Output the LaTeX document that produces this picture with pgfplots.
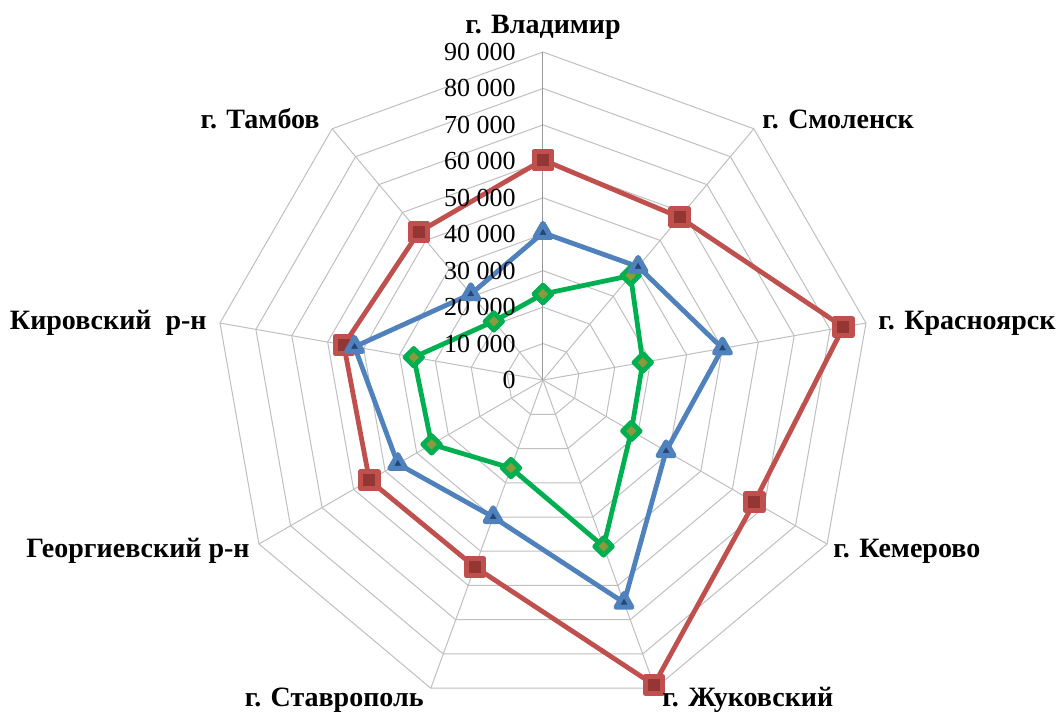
\documentclass[border=0pt]{standalone}
\usepackage{fontspec}
\setmainfont{Liberation Serif}
\usepackage{pgfplots}
\pgfplotsset{compat=1.18}
\usepgfplotslibrary{polar}

\definecolor{redline}{HTML}{C0504D}
\definecolor{redfill}{HTML}{943634}
\definecolor{blueline}{HTML}{4F81BD}
\definecolor{bluefill}{HTML}{254775}
\definecolor{greenline}{HTML}{00B050}
\definecolor{greenfill}{HTML}{8A9A3C}
\definecolor{gridc}{HTML}{BFBFBF}

\begin{document}
\begin{tikzpicture}
% page = 1059 x 714 px at 0.5pt per px, pole at px (543,380)
\useasboundingbox (-271.5pt,-167pt) rectangle (258pt,190pt);
\begin{polaraxis}[
    at={(0,0)}, anchor=center,
    scale only axis, width=328pt, height=328pt,
    ymin=0, ymax=90000,
    hide axis, clip=false,
  ]
  % rings (angles: category i at 90-40*i degrees)
  \pgfplotsinvokeforeach{10000,20000,30000,40000,50000,60000,70000,80000,90000}{
    \addplot[gridc, line width=0.5pt, mark=none] coordinates {
      (90,#1) (50,#1) (10,#1) (-30,#1) (-70,#1) (-110,#1) (-150,#1) (170,#1) (130,#1) (90,#1)};
  }
  % spokes
  \pgfplotsinvokeforeach{50,10,-30,-70,-110,-150,170,130}{
    \addplot[gridc, line width=0.5pt, mark=none] coordinates {(#1,0) (#1,90000)};
  }
  \addplot[gray!80, line width=0.5pt, mark=none] coordinates {(90,0) (90,90000)};

  % green series
  \addplot[greenline, line width=2.4pt, line join=round, mark=square*,
    mark options={solid, rotate=45, draw=greenline, fill=greenfill, line width=2.4pt, line join=round, mark size=3.1pt}]
  coordinates {
    (90,23600) (50,37400) (10,27800) (-30,28000) (-70,48600)
    (-110,25700) (-150,35300) (170,36000) (130,21000) (90,23600)};
  % red series
  \addplot[redline, line width=2.4pt, line join=round, mark=square*,
    mark options={solid, draw=redline, fill=redfill, line width=2.6pt, line join=round, mark size=4.3pt}]
  coordinates {
    (90,60400) (50,58300) (10,83700) (-30,67000) (-70,89000)
    (-110,54600) (-150,55000) (170,55500) (130,53000) (90,60400)};
  % blue series
  \addplot[blueline, line width=2.4pt, line join=round, mark=triangle*,
    mark options={solid, draw=blueline, fill=bluefill, line width=2.5pt, line join=round, mark size=4.6pt}]
  coordinates {
    (90,40400) (50,40600) (10,50000) (-30,39000) (-70,65000)
    (-110,40000) (-150,46000) (170,52500) (130,30800) (90,40400)};

  % value labels
  \pgfplotsinvokeforeach{10,20,30,40,50,60,70,80,90}{
    \node[anchor=east, inner sep=0pt, font=\fontsize{13}{13}\selectfont, xshift=-13.5pt]
      at (axis cs:90,#1000) {#1 000};
  }
  \node[anchor=east, inner sep=0pt, font=\fontsize{13}{13}\selectfont, xshift=-13.5pt]
    at (axis cs:90,0) {0};
\end{polaraxis}

\begin{scope}[x=0.5pt, y=0.5pt, every node/.style={inner sep=0pt, font=\bfseries\fontsize{14}{14}\selectfont}]
  \node[anchor=base] at (0,347) {г. Владимир};
  \node[anchor=base west] at (219,252) {г. Смоленск};
  \node[anchor=base west] at (335,51) {г. Красноярск};
  \node[anchor=base west] at (290,-177) {г. Кемерово};
  \node[anchor=base west] at (119,-326) {г. Жуковский};
  \node[anchor=base east] at (-119,-326) {г. Ставрополь};
  \node[anchor=base east] at (-293,-177) {Георгиевский р-н};
  \node[anchor=base east] at (-336,51) {Кировский\ \ р-н};
  \node[anchor=base east] at (-223,252) {г. Тамбов};
\end{scope}
\end{tikzpicture}
\end{document}
